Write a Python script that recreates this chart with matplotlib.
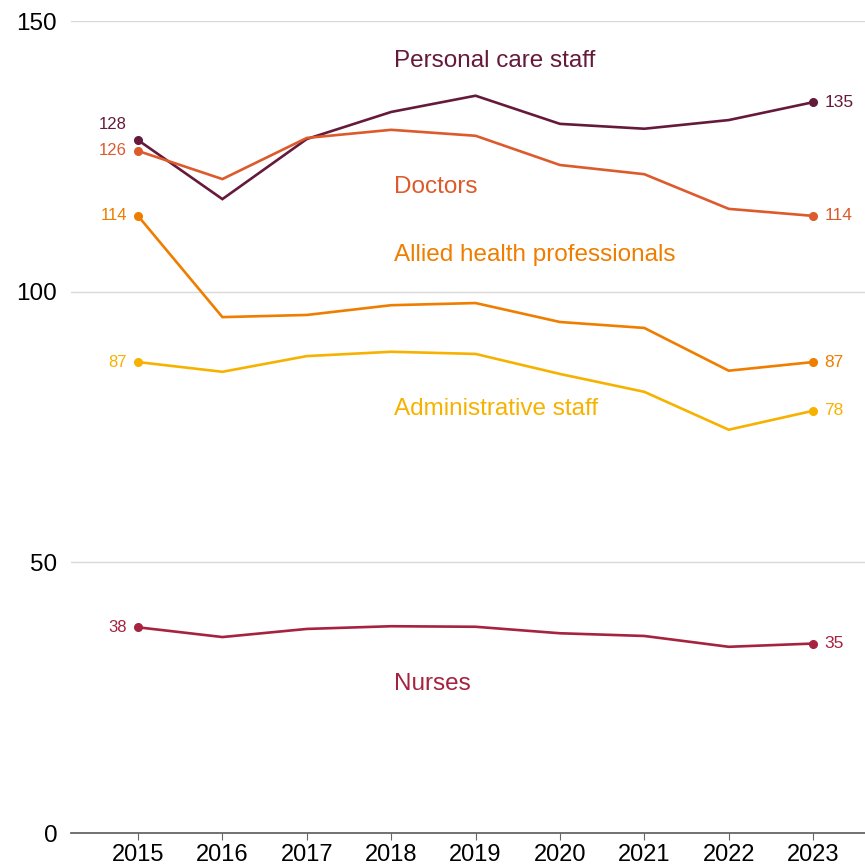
import matplotlib
matplotlib.use("Agg")
from matplotlib import pyplot as plt

plt.rcParams['font.family'] = ['Liberation Sans', 'DejaVu Sans']

years = [2015, 2016, 2017, 2018, 2019, 2020, 2021, 2022, 2023]

personal_care = [128, 117.1, 128.2, 133.2, 136.2, 131.0, 130.1, 131.7, 135]
doctors = [126, 120.8, 128.4, 129.9, 128.8, 123.4, 121.7, 115.3, 114]
allied = [114, 95.3, 95.7, 97.5, 97.9, 94.4, 93.3, 85.4, 87]
admin = [87, 85.2, 88.1, 88.9, 88.5, 84.8, 81.5, 74.5, 78]
nurses = [38, 36.2, 37.7, 38.2, 38.1, 36.9, 36.4, 34.4, 35]

names = ["Personal care staff", "Doctors", "Allied health professionals",
         "Administrative staff", "Nurses"]
label_y = [142.6, 119.3, 106.8, 78.3, 27.5]
colors = ["#661a3b", "#dc5a2b", "#ef7d00", "#f7b200", "#a5233f"]
# first-year label of personal care is nudged up so it clears the doctors label
start_dy = [11.5, 0, 0, 0, 0]

fig = plt.figure(figsize=(8.65, 8.68), dpi=100)
ax = fig.add_axes([0.0821, 0.0403, 0.918, 0.9355])

series = [personal_care, doctors, allied, admin, nurses]
for vals, name, ly, c, dy in zip(series, names, label_y, colors, start_dy):
    ax.plot(years, vals, color=c, lw=1.9, zorder=3, solid_joinstyle='miter')
    ax.plot([years[0], years[-1]], [vals[0], vals[-1]], 'o', color=c, ms=5.5, zorder=4)
    ax.annotate(f"{vals[0]:.0f}", (years[0], vals[0]), xytext=(-8, dy),
                textcoords='offset points', ha='right', va='center', fontsize=12, color=c)
    ax.annotate(f"{vals[-1]:.0f}", (years[-1], vals[-1]), xytext=(8, 0),
                textcoords='offset points', ha='left', va='center', fontsize=12.5, color=c)
    ax.text(2018.03, ly, name, color=c, fontsize=17.5, ha='left', va='center')

ax.set_xlim(2014.206, 2023.616)
ax.set_ylim(0, 150)
ax.set_yticks([0, 50, 100, 150])
ax.set_xticks(years)
ax.grid(axis='y', color='#d9d9d9', lw=1)
ax.set_axisbelow(True)
for s in ['top', 'right', 'left']:
    ax.spines[s].set_visible(False)
ax.spines['bottom'].set_color('#666666')
ax.spines['bottom'].set_linewidth(1.3)
ax.tick_params(axis='y', length=0, pad=10, labelsize=17.5)
ax.tick_params(axis='x', length=5, color='#666666', pad=3, labelsize=17)

fig.savefig("out.png", dpi=100)
